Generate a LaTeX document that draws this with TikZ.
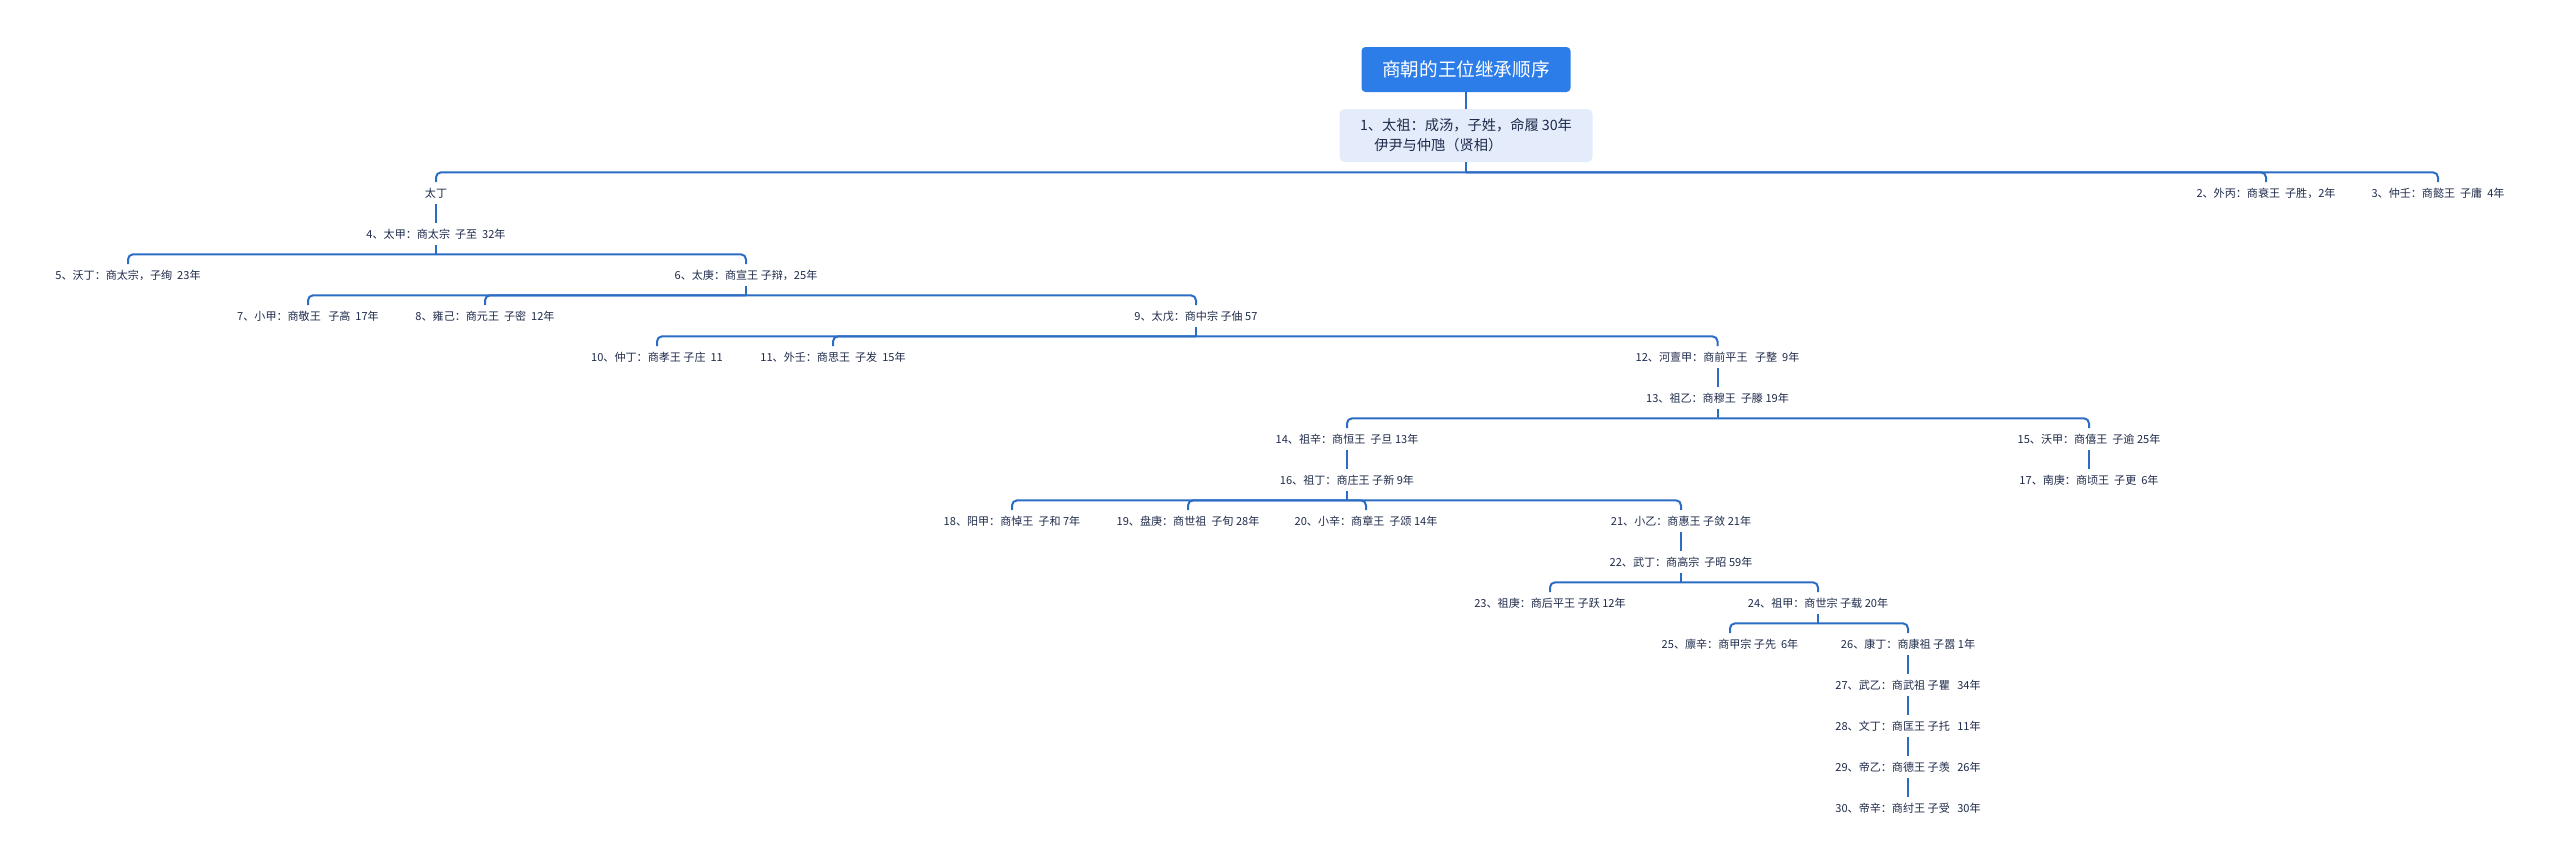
\documentclass[tikz,border=0pt]{standalone}
\usepackage{fontspec}
\usetikzlibrary{positioning}
\newfontfamily\cjk{Noto Sans CJK SC}
\definecolor{rootblue}{RGB}{45,125,232}
\definecolor{paleblue}{RGB}{228,236,251}
\definecolor{linkblue}{RGB}{43,108,196}
\definecolor{inkblue}{RGB}{30,42,74}

\begin{document}
\begin{tikzpicture}[x=0.2mm,y=-0.2mm,
    king/.style={font=\cjk\fontsize{6.3}{7.5}\selectfont,text=inkblue,minimum height=4.2mm,inner sep=0pt},
    link/.style={draw=linkblue,line width=0.4mm,rounded corners=1mm}]
  \useasboundingbox (0,0) rectangle (2560,867);

  % title and founder
  \node[fill=rootblue,text=white,rounded corners=0.8mm,minimum width=41.8mm,minimum height=9mm,
        font=\cjk\fontsize{10.6}{12}\selectfont] (n0) at (1466,69.5) {商朝的王位继承顺序};
  \node[fill=paleblue,text=inkblue,rounded corners=1mm,minimum width=50.6mm,minimum height=10.6mm,
        align=left,font=\cjk\fontsize{8.1}{11.4}\selectfont] (n1) at (1466,135.5)
        {1、太祖：成汤，子姓，命履 30年\\\hspace{1em}伊尹与仲虺（贤相）};

  % kings
  \node[king] (taiding) at (436,193) {太丁};
  \node[king] (n2) at (2266,193) {2、外丙：商衰王\ \ 子胜，2年};
  \node[king] (n3) at (2438,193) {3、仲壬：商懿王\ \ 子庸\ \ 4年};
  \node[king] (n4) at (436,234) {4、太甲：商太宗\ \ 子至\ \ 32年};
  \node[king] (n5) at (128,275) {5、沃丁：商太宗，子绚\ \ 23年};
  \node[king] (n6) at (746,275) {6、太庚：商宣王 子辩，25年};
  \node[king] (n7) at (308,316) {7、小甲：商敬王\ \ \ 子高\ \ 17年};
  \node[king] (n8) at (485,316) {8、雍己：商元王\ \ 子密\ \ 12年};
  \node[king] (n9) at (1196,316) {9、太戊：商中宗 子伷 57};
  \node[king] (n10) at (657,357) {10、仲丁：商孝王 子庄\ \ 11};
  \node[king] (n11) at (833,357) {11、外壬：商思王\ \ 子发\ \ 15年};
  \node[king] (n12) at (1717.5,357) {12、河亶甲：商前平王\ \ \ 子整\ \ 9年};
  \node[king] (n13) at (1717.5,398) {13、祖乙：商穆王\ \ 子滕 19年};
  \node[king] (n14) at (1347,439) {14、祖辛：商恒王\ \ 子旦 13年};
  \node[king] (n15) at (2089,439) {15、沃甲：商僖王\ \ 子逾 25年};
  \node[king] (n16) at (1347,480) {16、祖丁：商庄王 子新 9年};
  \node[king] (n17) at (2089,480) {17、南庚：商顷王\ \ 子更\ \ 6年};
  \node[king] (n18) at (1012,521) {18、阳甲：商悼王\ \ 子和 7年};
  \node[king] (n19) at (1188,521) {19、盘庚：商世祖\ \ 子旬 28年};
  \node[king] (n20) at (1366,521) {20、小辛：商章王\ \ 子颂 14年};
  \node[king] (n21) at (1681,521) {21、小乙：商惠王 子敛 21年};
  \node[king] (n22) at (1681,562) {22、武丁：商高宗\ \ 子昭 59年};
  \node[king] (n23) at (1550,603) {23、祖庚：商后平王 子跃 12年};
  \node[king] (n24) at (1818,603) {24、祖甲：商世宗 子载 20年};
  \node[king] (n25) at (1730,644) {25、廪辛：商甲宗 子先\ \ 6年};
  \node[king] (n26) at (1908,644) {26、康丁：商康祖 子嚣 1年};
  \node[king] (n27) at (1908,685) {27、武乙：商武祖 子瞿\ \ \ 34年};
  \node[king] (n28) at (1908,726) {28、文丁：商匡王 子托\ \ \ 11年};
  \node[king] (n29) at (1908,767) {29、帝乙：商德王 子羡\ \ \ 26年};
  \node[king] (n30) at (1908,808) {30、帝辛：商纣王 子受\ \ \ 30年};

  % bus points
  \coordinate[below=2mm of n1] (b1);
  \coordinate[below=1.9mm of n4] (b4);
  \coordinate[below=1.9mm of n6] (b6);
  \coordinate[below=1.9mm of n9] (b9);
  \coordinate[below=1.9mm of n13] (b13);
  \coordinate[below=1.9mm of n16] (b16);
  \coordinate[below=1.9mm of n22] (b22);
  \coordinate[below=1.9mm of n24] (b24);

  % single lines
  \draw[link] (n0) -- (n1);
  \draw[link] (taiding) -- (n4);
  \draw[link] (n12) -- (n13);
  \draw[link] (n14) -- (n16);
  \draw[link] (n15) -- (n17);
  \draw[link] (n21) -- (n22);
  \draw[link] (n26) -- (n27);
  \draw[link] (n27) -- (n28);
  \draw[link] (n28) -- (n29);
  \draw[link] (n29) -- (n30);

  % branching lines
  \draw[link] (n1) -- (b1);
  \foreach \c in {taiding,n2,n3} \draw[link] (b1) -| (\c.north);
  \draw[link] (n4) -- (b4);
  \foreach \c in {n5,n6} \draw[link] (b4) -| (\c.north);
  \draw[link] (n6) -- (b6);
  \foreach \c in {n7,n8,n9} \draw[link] (b6) -| (\c.north);
  \draw[link] (n9) -- (b9);
  \foreach \c in {n10,n11,n12} \draw[link] (b9) -| (\c.north);
  \draw[link] (n13) -- (b13);
  \foreach \c in {n14,n15} \draw[link] (b13) -| (\c.north);
  \draw[link] (n16) -- (b16);
  \foreach \c in {n18,n19,n20,n21} \draw[link] (b16) -| (\c.north);
  \draw[link] (n22) -- (b22);
  \foreach \c in {n23,n24} \draw[link] (b22) -| (\c.north);
  \draw[link] (n24) -- (b24);
  \foreach \c in {n25,n26} \draw[link] (b24) -| (\c.north);
\end{tikzpicture}
\end{document}
